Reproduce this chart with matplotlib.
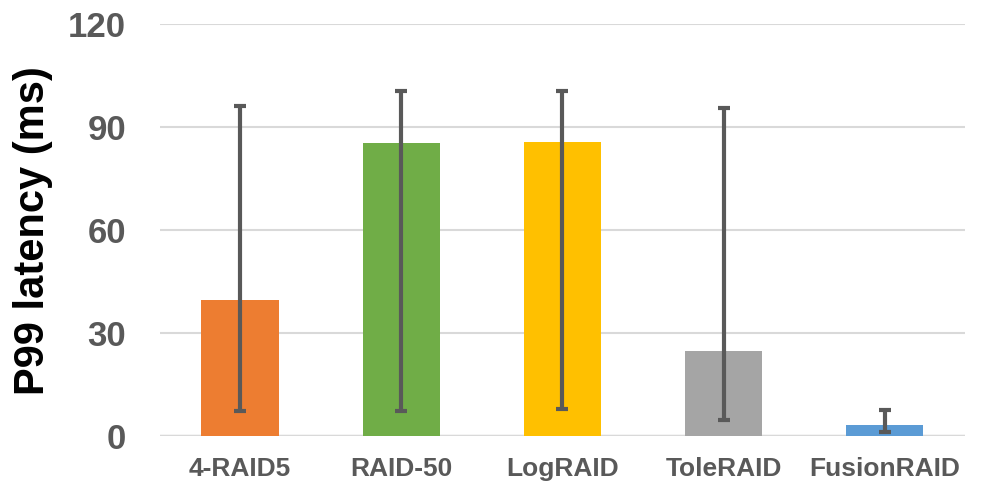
import matplotlib.pyplot as plt

systems = ['4-RAID5', 'RAID-50', 'LogRAID', 'ToleRAID', 'FusionRAID']
p99 = [39.6, 85.3, 85.6, 24.8, 3.1]
p99_low = [7.2, 7.3, 7.8, 4.7, 1.3]
p99_high = [96.2, 100.6, 100.5, 95.7, 7.5]
colors = ['#ED7D31', '#70AD47', '#FFC000', '#A5A5A5', '#5B9BD5']

plt.rcParams['font.family'] = ['Liberation Sans', 'DejaVu Sans']

err_lo = [v - lo for v, lo in zip(p99, p99_low)]
err_hi = [hi - v for v, hi in zip(p99, p99_high)]

fig = plt.figure(figsize=(9.85, 4.84), dpi=100)
ax = fig.add_axes([0.162, 0.099, 0.818, 0.851])

x = range(len(systems))
ax.bar(x, p99, width=0.48, color=colors, zorder=2)
ax.errorbar(x, p99, yerr=[err_lo, err_hi], fmt='none', ecolor='#595959',
            elinewidth=3, capsize=4.5, capthick=3, zorder=3)

ax.set_xlim(-0.5, 4.5)
ax.set_ylim(0, 120)
ax.set_yticks([0, 30, 60, 90, 120])
ax.yaxis.grid(True, color='#D9D9D9', linewidth=1.5, zorder=0)
for s in ax.spines.values():
    s.set_visible(False)
ax.axhline(0, color='#D9D9D9', linewidth=2.5, zorder=1)

ax.set_xticks(list(x))
ax.set_xticklabels(systems)
ax.tick_params(axis='both', length=0)
ax.tick_params(axis='y', labelsize=25, pad=24, labelcolor='#595959')
ax.tick_params(axis='x', labelsize=19, pad=15, labelcolor='#595959')
for lab in ax.get_xticklabels() + ax.get_yticklabels():
    lab.set_fontweight('bold')

ax.set_ylabel('P99 latency (ms)', fontsize=30, fontweight='bold')
ax.yaxis.set_label_coords(-0.132, 0.5)

fig.savefig('out.png', dpi=100)
